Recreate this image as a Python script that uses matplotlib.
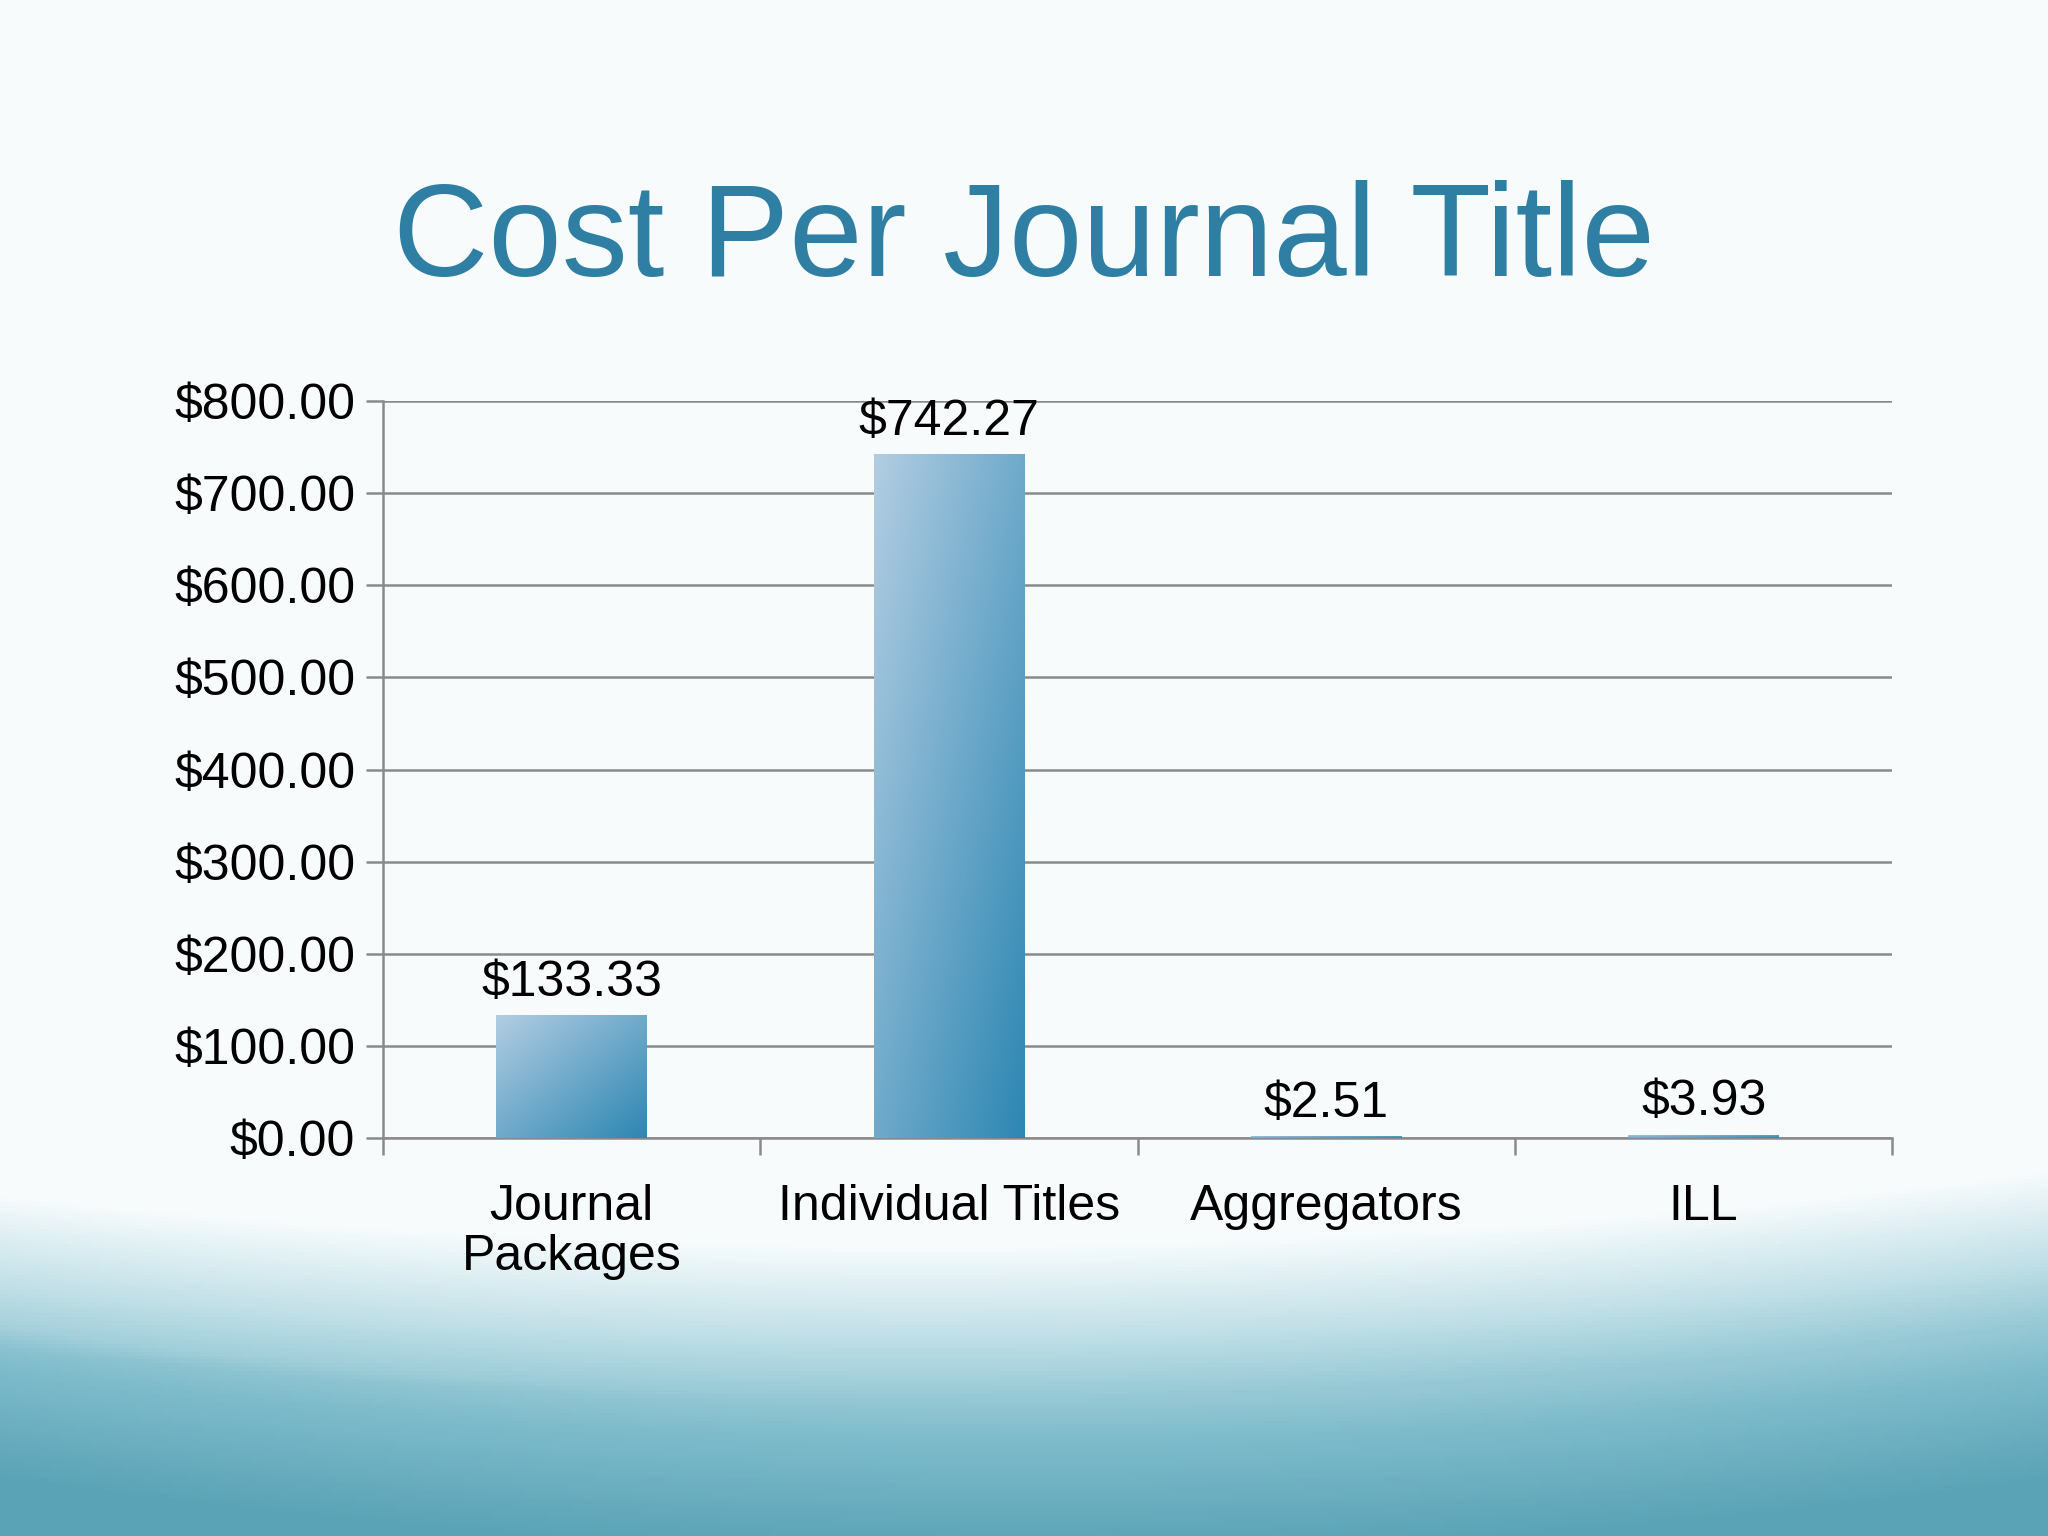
import numpy as np
import matplotlib.pyplot as plt
from matplotlib.colors import LinearSegmentedColormap

categories = ["Journal\nPackages", "Individual Titles", "Aggregators", "ILL"]
values = [133.33, 742.27, 2.51, 3.93]
labels = ["$133.33", "$742.27", "$2.51", "$3.93"]
yticks = [0, 100, 200, 300, 400, 500, 600, 700, 800]

fig = plt.figure(figsize=(20.48, 15.36), dpi=100)

# background
bg = fig.add_axes([0, 0, 1, 1], zorder=-10)
bg.axis('off')
H, W = 400, 500
yy, xx = np.mgrid[0:H, 0:W] / np.array([H, W])[:, None, None]
yb = 1 - yy
curve1 = 0.27 - 0.08 * (1 - ((xx - 0.45) / 0.7) ** 2)
curve2 = 0.17 - 0.08 * (1 - ((xx - 0.5) / 0.65) ** 2)
v = np.clip((curve1 - yb) / 0.10, 0, 1) * 0.55 + np.clip((curve2 - yb) / 0.10, 0, 1) * 0.45
v = np.clip(v, 0, 1)
cm = LinearSegmentedColormap.from_list("bg", ["#f7fbfc", "#bfdfe6", "#7fbccb", "#5aa3b6"])
bg.imshow(v, cmap=cm, extent=[0, 1, 0, 1], aspect='auto', vmin=0, vmax=1)
bg.set_xlim(0, 1); bg.set_ylim(0, 1)

fig.text(0.5, 0.843, "Cost Per Journal Title", ha='center', va='center',
         fontsize=95, color='#2e7fa3', family='Liberation Sans')

ax = fig.add_axes([0.187, 0.259, 0.737, 0.48])
ax.patch.set_alpha(0)
x = np.arange(len(categories))
ax.set_yticks(yticks)
ax.set_yticklabels([f"${t:.2f}" for t in yticks], fontsize=36, family='Liberation Sans')
ax.yaxis.grid(True, color='#8a8a8a', linewidth=1.8)
ax.set_axisbelow(True)
for s in ['top', 'right']:
    ax.spines[s].set_visible(False)
ax.spines['left'].set_color('#8a8a8a'); ax.spines['left'].set_linewidth(1.8)
ax.spines['bottom'].set_color('#8a8a8a'); ax.spines['bottom'].set_linewidth(1.8)
ax.tick_params(axis='y', length=12, width=1.8, color='#8a8a8a', direction='out', pad=8)
ax.set_xticks(np.arange(-0.5, len(categories)))
ax.set_xticklabels([])
ax.tick_params(axis='x', length=12, width=1.8, color='#8a8a8a', direction='out')
for i, c in enumerate(categories):
    ax.text(i, -50, c, ha='center', va='top', fontsize=36, family='Liberation Sans',
            linespacing=1.1)

barcm = LinearSegmentedColormap.from_list("bar", ["#b2cde2", "#2c86b2"])
gy, gx = np.mgrid[0:100, 0:100] / 100.0
grad = 0.5 * gx + 0.5 * gy
w = 0.4
for i, val in enumerate(values):
    bars = ax.bar(i, val, width=w, color='none', zorder=3)
    im = ax.imshow(grad, cmap=barcm, extent=[i - w / 2, i + w / 2, 0, max(val, 0.5)],
                   aspect='auto', zorder=3, vmin=0, vmax=1)
    im.set_clip_path(bars[0])
    ax.text(i, val + 10, labels[i], ha='center', va='bottom', fontsize=36,
            family='Liberation Sans')
ax.set_xlim(-0.5, len(categories) - 0.5)
ax.set_ylim(0, 800)

fig.savefig("out.png", dpi=100)
